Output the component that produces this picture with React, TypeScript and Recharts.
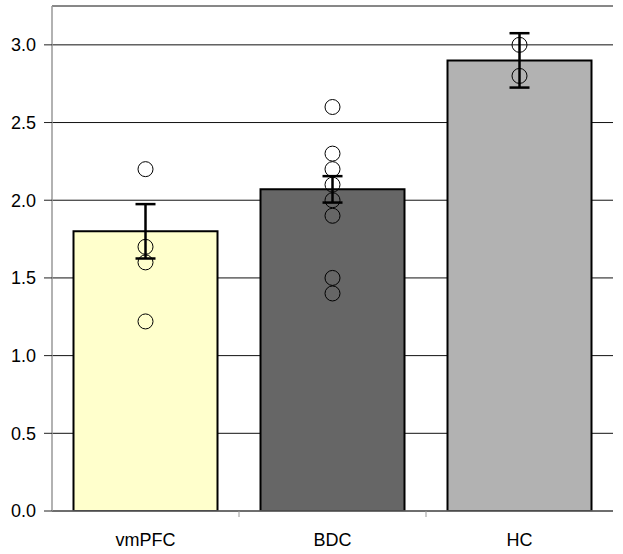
import React from "react";
import {
  ComposedChart,
  Bar,
  Cell,
  ErrorBar,
  Scatter,
  XAxis,
  YAxis,
  CartesianGrid,
} from "recharts";

const groups = ["vmPFC", "BDC", "HC"];
const means = [1.8, 2.07, 2.9];
const errors = [0.175, 0.085, 0.175];
const barColors = ["#FFFFCC", "#666666", "#B2B2B2"];

const vmpfcScores = [2.2, 1.7, 1.6, 1.22];
const bdcScores = [2.6, 2.3, 2.2, 2.1, 2.0, 1.9, 1.5, 1.4];
const hcScores = [3.0, 2.8];

const yTicks = [0, 0.5, 1.0, 1.5, 2.0, 2.5, 3.0];

const font = "'Liberation Sans', Arial, sans-serif";

const barData = groups.map((g, i) => ({ group: g, mean: means[i], err: errors[i] }));
const pointData = [
  ...vmpfcScores.map((s) => ({ group: "vmPFC", score: s })),
  ...bdcScores.map((s) => ({ group: "BDC", score: s })),
  ...hcScores.map((s) => ({ group: "HC", score: s })),
];

// tick y comes in a few px below the axis line
const CategoryTick = (props: any) => {
  const { x, y, payload, index } = props;
  const half = payload && payload.offset ? payload.offset : 0;
  return (
    <g>
      {index < groups.length - 1 && (
        <line x1={x + half} x2={x + half} y1={y - 8} y2={y - 2} stroke="#999" strokeWidth={1} />
      )}
      <text x={x} y={y + 27} textAnchor="middle" fontSize={18} fontFamily={font} fill="#000">
        {payload.value}
      </text>
    </g>
  );
};

const Ring = (props: any) => {
  const { cx, cy } = props;
  return <circle cx={cx} cy={cy} r={7.5} fill="none" stroke="#000" strokeWidth={1} />;
};

export default function App() {
  return (
    <div style={{ position: "absolute", left: 0, top: 0, background: "#fff" }}>
      <ComposedChart
        width={623}
        height={554}
        data={barData}
        margin={{ top: 6, right: 10, bottom: 0, left: 0 }}
        barCategoryGap="11.5%"
      >
        <CartesianGrid vertical={false} stroke="#111" strokeWidth={1} />
        <XAxis
          dataKey="group"
          type="category"
          allowDuplicatedCategory={false}
          height={43}
          axisLine={{ stroke: "#666", strokeWidth: 1.5 }}
          tickLine={false}
          tick={<CategoryTick />}
          interval={0}
        />
        <XAxis
          xAxisId="top"
          orientation="top"
          dataKey="group"
          allowDuplicatedCategory={false}
          height={0}
          tick={false}
          tickLine={false}
          axisLine={{ stroke: "#999", strokeWidth: 1.5 }}
        />
        <YAxis
          type="number"
          domain={[0, 3.25]}
          ticks={yTicks}
          width={52}
          tickSize={8}
          tickMargin={8}
          allowDataOverflow
          axisLine={{ stroke: "#999", strokeWidth: 1.5 }}
          tickLine={{ stroke: "#222" }}
          tick={{ fontSize: 18, fontFamily: font, fill: "#000" }}
          tickFormatter={(v: number) => v.toFixed(1)}
        />
        <YAxis
          yAxisId="right"
          orientation="right"
          domain={[0, 3.25]}
          width={0}
          tick={false}
          tickLine={false}
          axisLine={{ stroke: "#999", strokeWidth: 1.5 }}
        />
        <Bar dataKey="mean" stroke="#000" strokeWidth={2} isAnimationActive={false}>
          {barData.map((d, i) => (
            <Cell key={d.group} fill={barColors[i]} />
          ))}
          <ErrorBar dataKey="err" width={10} strokeWidth={2.5} stroke="#000" direction="y" />
        </Bar>
        <Scatter data={pointData} dataKey="score" shape={<Ring />} isAnimationActive={false} />
      </ComposedChart>
    </div>
  );
}
